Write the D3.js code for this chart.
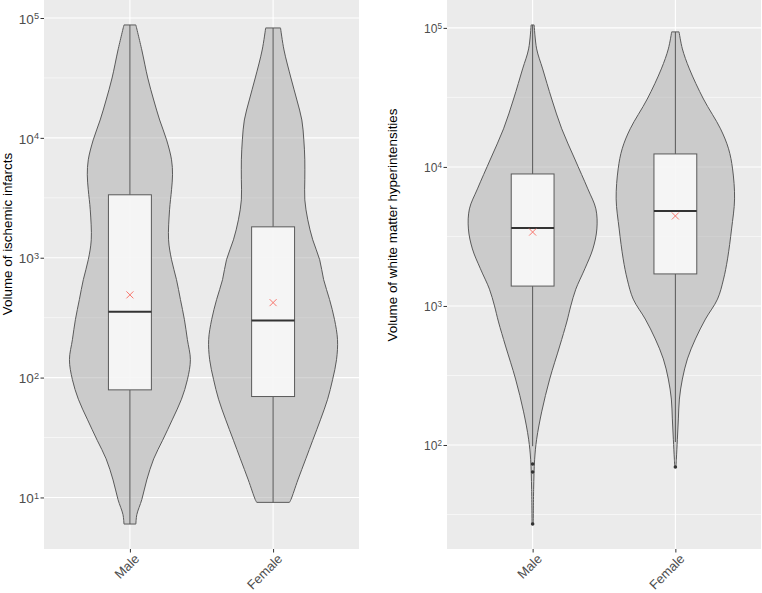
<!DOCTYPE html>
<html>
<head>
<meta charset="utf-8">
<script src="https://cdn.jsdelivr.net/npm/d3@7"></script>
<style>
  body { margin: 0; background: #fff; }
  svg { display: block; font-family: "Liberation Sans", Arial, sans-serif; }
</style>
</head>
<body>
<svg id="chart" width="762" height="593"></svg>
<script>
// categories
var sexes = ["Male", "Female"];

// ischemic infarcts: violin outline (volume, estimated density)
var infMaleVol  = [87500, 54100, 31600, 20700, 14100, 9620, 6560, 4920, 3690, 2510, 1410, 962, 656, 447, 304, 207, 141, 96, 66, 45, 30, 21, 14, 9.6, 7.2, 6.0];
var infMaleDens = [6, 12, 18, 24, 30, 37, 42, 43, 42, 40, 39, 42, 47, 51, 55, 58, 61, 58, 52, 43, 33, 24, 17, 12, 7, 6];
var infFemVol   = [82600, 54100, 31600, 20700, 14100, 9620, 6560, 4470, 3040, 2070, 1410, 962, 656, 447, 304, 207, 141, 96, 66, 45, 30, 21, 14, 9.6, 9.1];
var infFemDens  = [7.5, 11, 18, 24, 29, 31, 32, 32, 32, 35, 40, 47, 51, 57, 62, 65, 64, 60, 55, 48, 40, 33, 25, 18, 16.5];

// ischemic infarcts: box stats (Male, Female)
var infQ1 = [79, 69.5];
var infMedian = [355, 299];
var infQ3 = [3350, 1810];
var infMean = [490, 422];
var infLow = [6.0, 9.1];
var infHigh = [87500, 82600];
var infOutliers = [[], []];

// white matter hyperintensities: violin outline
var wmhMaleVol  = [105000, 70600, 50700, 30800, 18800, 11400, 6950, 4990, 3580, 2570, 1850, 1320, 1000, 767, 515, 298, 173, 110, 79, 48, 27];
var wmhMaleDens = [1.5, 4, 10, 19, 29, 42, 55, 63, 64, 60, 52, 43, 38, 34, 27, 17, 9, 4, 2, 1, 0.6];
var wmhFemVol   = [93600, 70600, 50700, 30800, 18800, 13500, 9680, 5890, 3580, 2180, 1560, 1120, 805, 579, 416, 298, 214, 154, 110, 79, 69.5];
var wmhFemDens  = [3.7, 7, 14, 28, 45, 53, 57, 59, 56, 52, 48, 42, 30, 20, 12, 7, 4, 3, 2, 1, 0.6];

var wmhQ1 = [1390, 1700];
var wmhMedian = [3640, 4820];
var wmhQ3 = [8900, 12400];
var wmhMean = [3400, 4440];
var wmhLow = [98, 105];
var wmhHigh = [105000, 93600];
var wmhOutliers = [[73, 64, 27], [69.5]];

var tickVals = [10, 100, 1000, 10000, 100000];

var svg = d3.select("#chart");

function drawPanel(p) {
    var g = svg.append("g");

    var x = d3.scalePoint().domain(sexes).range([p.x0, p.x1]).padding(0.6);
    var step = x.step();

    // y domain from data, 5% expansion in log space
    var all = [];
    p.violins.forEach(function (v) { all = all.concat(v.vol); });
    var lo = Math.log10(d3.min(all)), hi = Math.log10(d3.max(all));
    var pad = (hi - lo) * 0.05;
    var y = d3.scaleLog().domain([Math.pow(10, lo - pad), Math.pow(10, hi + pad)]).range([p.y1, p.y0]);

    g.append("rect")
        .attr("x", p.x0).attr("y", p.y0)
        .attr("width", p.x1 - p.x0).attr("height", p.y1 - p.y0)
        .attr("fill", "#EBEBEB");

    // minor grid
    var minor = [];
    for (var e = -1; e < 7; e++) {
        var m = Math.pow(10, e + 0.5);
        if (m > y.domain()[0] && m < y.domain()[1]) minor.push(m);
    }
    g.selectAll(".minor").data(minor).enter().append("line")
        .attr("x1", p.x0).attr("x2", p.x1)
        .attr("y1", function (d) { return y(d); }).attr("y2", function (d) { return y(d); })
        .attr("stroke", "#fff").attr("stroke-width", 0.55);

    var major = tickVals.filter(function (d) { return d > y.domain()[0] && d < y.domain()[1]; });
    g.selectAll(".major").data(major).enter().append("line")
        .attr("x1", p.x0).attr("x2", p.x1)
        .attr("y1", function (d) { return y(d); }).attr("y2", function (d) { return y(d); })
        .attr("stroke", "#fff").attr("stroke-width", 1.1);

    g.selectAll(".vgrid").data(sexes).enter().append("line")
        .attr("x1", function (d) { return x(d); }).attr("x2", function (d) { return x(d); })
        .attr("y1", p.y0).attr("y2", p.y1)
        .attr("stroke", "#fff").attr("stroke-width", 1.1);

    // violins
    var maxDens = d3.max(p.violins, function (v) { return d3.max(v.dens); });
    var w = d3.scaleLinear().domain([0, maxDens]).range([0, 0.45 * step]);

    p.violins.forEach(function (v, i) {
        var cx = x(sexes[i]);
        var pts = v.vol.map(function (d, j) { return { v: d, d: v.dens[j] }; });
        var area = d3.area()
            .y(function (d) { return y(d.v); })
            .x0(function (d) { return cx - w(d.d); })
            .x1(function (d) { return cx + w(d.d); })
            .curve(d3.curveCatmullRom);
        g.append("path")
            .attr("d", area(pts))
            .attr("fill", "#ABABAB").attr("fill-opacity", 0.5)
            .attr("stroke", "#5A5A5A").attr("stroke-width", 1);
    });

    // boxplots
    var bw = 0.15 * step;
    sexes.forEach(function (s, i) {
        var cx = x(s);
        g.append("line")
            .attr("x1", cx).attr("x2", cx)
            .attr("y1", y(p.high[i])).attr("y2", y(p.q3[i]))
            .attr("stroke", "#555").attr("stroke-width", 1);
        g.append("line")
            .attr("x1", cx).attr("x2", cx)
            .attr("y1", y(p.q1[i])).attr("y2", y(p.low[i]))
            .attr("stroke", "#555").attr("stroke-width", 1);
        g.append("rect")
            .attr("x", cx - bw).attr("width", 2 * bw)
            .attr("y", y(p.q3[i])).attr("height", y(p.q1[i]) - y(p.q3[i]))
            .attr("fill", "#fff").attr("fill-opacity", 0.8)
            .attr("stroke", "#5A5A5A").attr("stroke-width", 1);
        g.append("line")
            .attr("x1", cx - bw).attr("x2", cx + bw)
            .attr("y1", y(p.median[i])).attr("y2", y(p.median[i]))
            .attr("stroke", "#333").attr("stroke-width", 2);
        g.selectAll(null).data(p.outliers[i]).enter().append("circle")
            .attr("cx", cx).attr("cy", function (d) { return y(d); })
            .attr("r", 1.8).attr("fill", "#333");
        // mean marker
        var my = y(p.mean[i]), r = 3.5;
        g.append("path")
            .attr("d", "M" + (cx - r) + "," + (my - r) + "L" + (cx + r) + "," + (my + r) +
                       "M" + (cx - r) + "," + (my + r) + "L" + (cx + r) + "," + (my - r))
            .attr("stroke", "#F8766D").attr("stroke-width", 1);
    });

    // y axis
    var ya = g.append("g").attr("transform", "translate(" + p.x0 + ",0)")
        .call(d3.axisLeft(y).tickValues(major).tickSize(3.5).tickFormat(function () { return ""; }));
    ya.select(".domain").remove();
    ya.selectAll(".tick line").attr("stroke", "#333");
    ya.selectAll(".tick").append("text")
        .attr("x", -5).attr("dy", "0.38em")
        .attr("text-anchor", "end")
        .attr("fill", "#4D4D4D")
        .style("font-size", p.tickSize + "px")
        .each(function (d) {
            var t = d3.select(this);
            t.append("tspan").text("10");
            t.append("tspan").attr("dy", "-0.5em").style("font-size", "0.68em")
                .text(Math.round(Math.log10(d)));
        });

    // x axis
    var xa = g.append("g").attr("transform", "translate(0," + p.y1 + ")")
        .call(d3.axisBottom(x).tickSize(3.5).tickFormat(function () { return ""; }));
    xa.select(".domain").remove();
    xa.selectAll(".tick line").attr("stroke", "#333");
    xa.selectAll(".tick").append("text")
        .attr("transform", "translate(3,4) rotate(-45)")
        .attr("dy", "0.72em")
        .attr("text-anchor", "end")
        .attr("fill", "#4D4D4D")
        .style("font-size", "13px")
        .text(function (d) { return d; });

    // y title
    g.append("text")
        .attr("transform", "translate(" + p.titleX + "," + p.titleY + ") rotate(-90)")
        .attr("text-anchor", "middle")
        .attr("fill", "#000")
        .style("font-size", "13.4px")
        .text(p.title);
}

drawPanel({
    x0: 44, x1: 359, y0: 0, y1: 549,
    violins: [{ vol: infMaleVol, dens: infMaleDens }, { vol: infFemVol, dens: infFemDens }],
    q1: infQ1, median: infMedian, q3: infQ3, mean: infMean, low: infLow, high: infHigh, outliers: infOutliers,
    tickSize: 13.5,
    title: "Volume of ischemic infarcts", titleX: 12, titleY: 234
});

drawPanel({
    x0: 447, x1: 761, y0: 0, y1: 549,
    violins: [{ vol: wmhMaleVol, dens: wmhMaleDens }, { vol: wmhFemVol, dens: wmhFemDens }],
    q1: wmhQ1, median: wmhMedian, q3: wmhQ3, mean: wmhMean, low: wmhLow, high: wmhHigh, outliers: wmhOutliers,
    tickSize: 12,
    title: "Volume of white matter hyperintensities", titleX: 397, titleY: 225
});
</script>
</body>
</html>
